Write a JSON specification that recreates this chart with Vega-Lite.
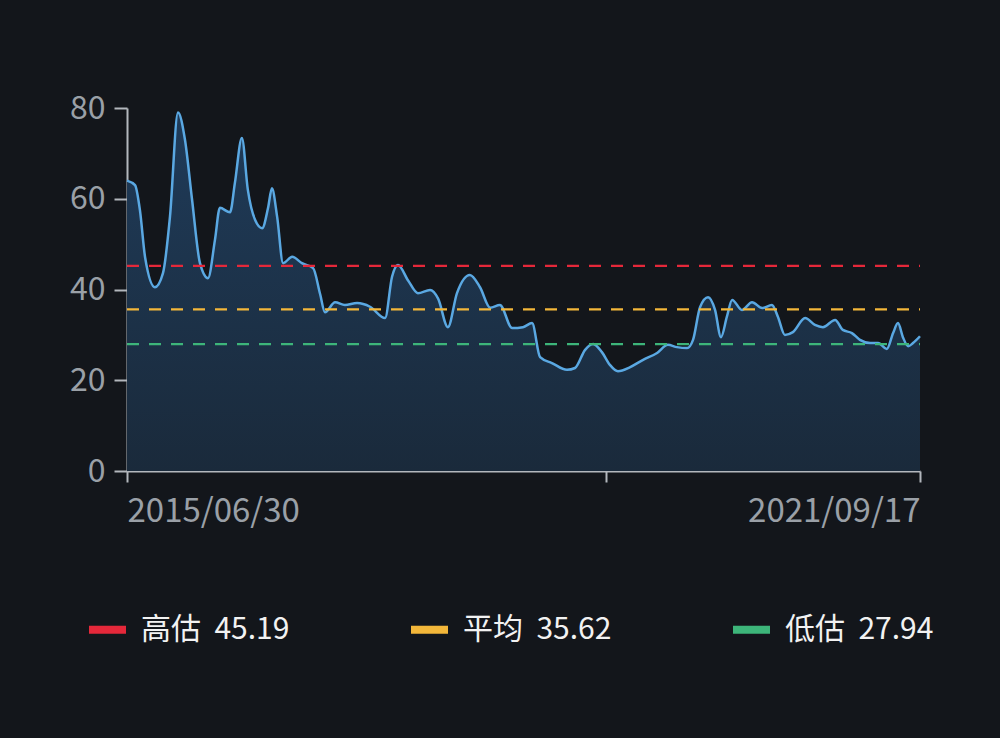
{
  "$schema": "https://vega.github.io/schema/vega-lite/v6.json",
  "width": 793,
  "height": 363,
  "autosize": "none",
  "padding": {"left": 127, "top": 108, "right": 80, "bottom": 267},
  "background": "#13161b",
  "config": {"view": {"stroke": null}, "font": "Noto Sans CJK SC"},
  "datasets": {
    "pe": [
      {"date": "2015-06-30", "value": 64},
      {"date": "2015-07-23", "value": 63},
      {"date": "2015-08-06", "value": 57.5},
      {"date": "2015-08-21", "value": 47},
      {"date": "2015-09-18", "value": 40.5},
      {"date": "2015-10-11", "value": 43.6},
      {"date": "2015-10-31", "value": 56},
      {"date": "2015-11-23", "value": 79},
      {"date": "2015-12-13", "value": 73},
      {"date": "2016-01-02", "value": 60},
      {"date": "2016-01-25", "value": 45.8},
      {"date": "2016-02-17", "value": 42.5},
      {"date": "2016-03-08", "value": 51},
      {"date": "2016-03-22", "value": 58},
      {"date": "2016-04-20", "value": 57},
      {"date": "2016-05-04", "value": 63.5},
      {"date": "2016-05-24", "value": 73.4},
      {"date": "2016-06-10", "value": 62},
      {"date": "2016-07-01", "value": 55.3},
      {"date": "2016-07-21", "value": 53.5},
      {"date": "2016-08-07", "value": 58},
      {"date": "2016-08-18", "value": 62.3},
      {"date": "2016-09-02", "value": 56},
      {"date": "2016-09-19", "value": 45.8},
      {"date": "2016-10-15", "value": 47.2},
      {"date": "2016-11-12", "value": 45.8},
      {"date": "2016-12-14", "value": 44.7},
      {"date": "2017-01-03", "value": 39},
      {"date": "2017-01-17", "value": 35},
      {"date": "2017-02-15", "value": 37.2},
      {"date": "2017-03-15", "value": 36.6},
      {"date": "2017-04-19", "value": 37},
      {"date": "2017-05-26", "value": 36.2},
      {"date": "2017-07-08", "value": 33.7},
      {"date": "2017-07-28", "value": 42.8},
      {"date": "2017-08-14", "value": 45.4},
      {"date": "2017-09-12", "value": 42},
      {"date": "2017-10-10", "value": 39.2},
      {"date": "2017-11-14", "value": 39.9},
      {"date": "2017-12-07", "value": 38},
      {"date": "2018-01-04", "value": 31.7},
      {"date": "2018-01-30", "value": 39.2},
      {"date": "2018-03-08", "value": 43.2},
      {"date": "2018-04-06", "value": 40.5},
      {"date": "2018-05-05", "value": 36},
      {"date": "2018-06-02", "value": 36.6},
      {"date": "2018-07-07", "value": 31.5},
      {"date": "2018-08-07", "value": 31.7},
      {"date": "2018-09-02", "value": 32.6},
      {"date": "2018-09-25", "value": 25.1},
      {"date": "2018-10-29", "value": 23.8},
      {"date": "2018-12-11", "value": 22.3},
      {"date": "2019-01-03", "value": 22.7},
      {"date": "2019-02-01", "value": 26.7},
      {"date": "2019-02-24", "value": 28},
      {"date": "2019-03-21", "value": 26.2},
      {"date": "2019-04-13", "value": 23.4},
      {"date": "2019-05-06", "value": 22},
      {"date": "2019-06-10", "value": 22.9},
      {"date": "2019-07-17", "value": 24.5},
      {"date": "2019-08-26", "value": 26},
      {"date": "2019-09-26", "value": 27.8},
      {"date": "2019-10-22", "value": 27.3},
      {"date": "2019-11-20", "value": 27.1},
      {"date": "2019-12-07", "value": 28.9},
      {"date": "2019-12-27", "value": 36.1},
      {"date": "2020-01-19", "value": 38.3},
      {"date": "2020-02-08", "value": 35.5},
      {"date": "2020-02-25", "value": 29.5},
      {"date": "2020-03-13", "value": 34},
      {"date": "2020-03-28", "value": 37.7},
      {"date": "2020-04-25", "value": 35.5},
      {"date": "2020-05-24", "value": 37.2},
      {"date": "2020-06-22", "value": 35.9},
      {"date": "2020-07-20", "value": 36.6},
      {"date": "2020-08-06", "value": 34},
      {"date": "2020-08-26", "value": 30},
      {"date": "2020-09-18", "value": 30.6},
      {"date": "2020-10-23", "value": 33.7},
      {"date": "2020-11-20", "value": 32.2},
      {"date": "2020-12-13", "value": 31.7},
      {"date": "2021-01-17", "value": 33.3},
      {"date": "2021-02-08", "value": 31.1},
      {"date": "2021-03-06", "value": 30.4},
      {"date": "2021-03-29", "value": 28.9},
      {"date": "2021-04-27", "value": 28.2},
      {"date": "2021-05-20", "value": 28.2},
      {"date": "2021-06-14", "value": 26.9},
      {"date": "2021-07-02", "value": 30.4},
      {"date": "2021-07-16", "value": 32.6},
      {"date": "2021-07-30", "value": 29.5},
      {"date": "2021-08-14", "value": 27.5},
      {"date": "2021-08-28", "value": 28.2},
      {"date": "2021-09-17", "value": 29.7}
    ],
    "bands": [
      {"label": "高估\u00a0\u00a045.19", "value": 45.19},
      {"label": "平均\u00a0\u00a035.62", "value": 35.62},
      {"label": "低估\u00a0\u00a027.94", "value": 27.94}
    ]
  },
  "layer": [
    {
      "data": {"name": "pe"},
      "encoding": {
        "x": {
          "field": "date",
          "type": "temporal",
          "scale": {
            "type": "utc",
            "nice": false,
            "domain": [
              {"year": 2015, "month": 6, "date": 30, "utc": true},
              {"year": 2021, "month": 9, "date": 17, "utc": true}
            ]
          },
          "axis": {
            "title": null,
            "grid": false,
            "values": [
              {"year": 2015, "month": 6, "date": 30, "utc": true},
              {"year": 2019, "month": 4, "date": 2, "utc": true},
              {"year": 2021, "month": 9, "date": 17, "utc": true}
            ],
            "labelExpr": "utcFormat(datum.value, '%Y') == '2019' ? '' : utcFormat(datum.value, '%Y/%m/%d')",
            "labelFlush": true,
            "labelFontSize": 33,
            "labelColor": "#9aa0a7",
            "labelPadding": 13,
            "domainColor": "#b3b7bd",
            "domainWidth": 2,
            "tickColor": "#b3b7bd",
            "tickWidth": 2,
            "tickSize": 11
          }
        },
        "y": {
          "field": "value",
          "type": "quantitative",
          "scale": {"domain": [0, 80], "nice": false},
          "axis": {
            "title": null,
            "grid": false,
            "values": [0, 20, 40, 60, 80],
            "labelFontSize": 32,
            "labelColor": "#9aa0a7",
            "labelPadding": 9,
            "domainColor": "#b3b7bd",
            "domainWidth": 2,
            "tickColor": "#b3b7bd",
            "tickWidth": 2,
            "tickSize": 13
          }
        }
      },
      "layer": [
        {
          "mark": {
            "type": "area",
            "interpolate": "monotone",
            "color": {
              "gradient": "linear",
              "x1": 0, "y1": 0, "x2": 0, "y2": 1,
              "stops": [
                {"offset": 0, "color": "#1f3b59"},
                {"offset": 1, "color": "#1a2a3b"}
              ]
            }
          }
        },
        {
          "mark": {"type": "line", "interpolate": "monotone", "color": "#5aa8e2", "strokeWidth": 2.5}
        }
      ]
    },
    {
      "data": {"name": "bands"},
      "mark": {"type": "rule", "strokeDash": [12, 10], "strokeDashOffset": 11, "strokeWidth": 2.2},
      "encoding": {
        "y": {"field": "value", "type": "quantitative"},
        "color": {
          "field": "label",
          "type": "nominal",
          "scale": {
            "domain": ["高估\u00a0\u00a045.19", "平均\u00a0\u00a035.62", "低估\u00a0\u00a027.94"],
            "range": ["#e5283a", "#f3b73a", "#3db57a"]
          },
          "legend": {
            "orient": "none",
            "legendX": -42,
            "legendY": 499,
            "direction": "horizontal",
            "title": null,
            "padding": 0,
            "symbolType": "stroke",
            "symbolSize": 1369,
            "symbolStrokeWidth": 8,
            "labelFontSize": 30,
            "labelColor": "#f2f2f2",
            "labelLimit": 400,
            "labelOffset": 11,
            "columnPadding": 105,
            "gridAlign": "all",
            "encode": {"symbols": {"update": {"strokeDash": {"value": [1, 0]}}}}
          }
        }
      }
    }
  ]
}
